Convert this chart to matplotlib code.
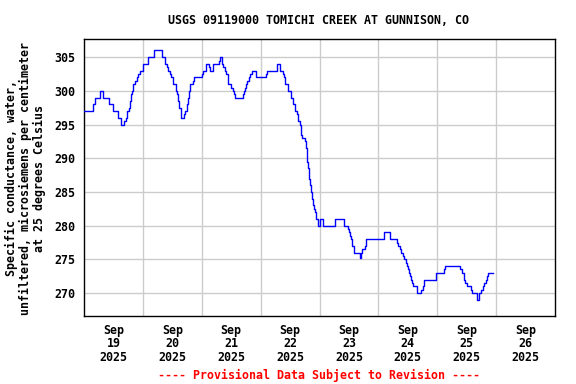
import matplotlib
matplotlib.use("Agg")
import matplotlib.pyplot as plt
from datetime import datetime, timedelta

title = "USGS 09119000 TOMICHI CREEK AT GUNNISON, CO"
ylabel = "Specific conductance, water,\nunfiltered, microsiemens per centimeter\nat 25 degrees Celsius"
footer = "---- Provisional Data Subject to Revision ----"

start = datetime(2025, 9, 19)
# hours since Sep 19 00:00 at which value changes
hours = [0, 3.5, 4.6, 6.5, 7.6, 10.1, 11.7, 13.9, 15.0, 16.3, 17.1, 17.7, 18.2, 18.8,
         19.2, 19.6, 20.1, 20.9, 21.5, 22.0, 22.8, 24.2, 26.1, 28.6, 31.8, 32.9, 33.7,
         34.3, 35.1, 35.6, 36.4, 37.5, 38.1, 38.4, 38.9, 39.4, 40.8, 41.3, 41.9, 42.4,
         43.0, 43.2, 44.6, 44.9, 48.1, 48.4, 49.8, 50.9, 51.4, 52.5, 54.9, 55.5, 56.3,
         56.8, 57.4, 57.9, 58.5, 60.1, 60.7, 61.2, 61.7, 65.0, 65.3, 65.6, 66.1, 66.6,
         67.2, 67.7, 68.3, 70.2, 74.3, 74.8, 78.6, 79.7, 81.1, 81.6, 81.9, 83.2, 84.3,
         85.1, 86.0, 86.8, 87.3, 87.9, 88.4, 88.7, 90.0, 90.6, 90.8, 91.4, 91.9, 92.2,
         92.5, 92.7, 93.0, 93.3, 93.5, 93.8, 94.1, 94.4, 94.6, 95.5, 96.3, 97.4, 97.6,
         102.3, 105.8, 107.5, 108.0, 108.5, 108.8, 109.1, 110.2, 112.6, 112.9, 113.5,
         114.6, 115.1, 122.2, 124.6, 127.6, 128.2, 128.7, 129.3, 130.1, 130.6, 131.2,
         131.7, 132.0, 132.6, 132.8, 133.1, 133.6, 134.2, 135.6, 137.5, 138.0, 138.8,
         143.5, 146.7, 147.0, 153.3, 154.1, 154.9, 155.5, 156.0, 157.9, 158.2, 160.4,
         160.9, 162.0, 162.5, 163.1, 163.7, 164.2, 164.7, 166.9]
values = [297, 298, 299, 300, 299, 298, 297, 296, 295, 295.5, 296, 297, 297.5, 298.5,
          299.5, 300, 301, 301.5, 302, 302.5, 303, 304, 305, 306, 305, 304, 303.5,
          303, 302.5, 302, 301, 300, 299.5, 298.5, 297.5, 296, 296.5, 297, 298, 299,
          300, 301, 301.5, 302, 302.5, 303, 304, 303.5, 303, 304, 304.5, 305, 304,
          303.5, 303, 302.5, 301, 300.5, 300, 299.5, 299, 299.5, 300, 300.5, 301, 301.5,
          302, 302.5, 303, 302, 302.5, 303, 304, 303, 302.5, 302, 301, 300, 299,
          298, 297, 296.5, 295.5, 295, 293.5, 293, 292.5, 291.5, 289.5, 288.5, 287, 286,
          285.7, 285, 284, 283.5, 283, 282.5, 282, 281.5, 281, 280, 281, 280.5, 280,
          281, 280, 279.5, 279, 278.5, 278, 277, 276, 275.2, 276, 276.5,
          277, 278, 279, 278, 277.5, 277, 276.5, 276, 275.5, 275, 274.5,
          274, 273.5, 273, 272.5, 272, 271.5, 271, 270, 270.5, 271, 272,
          273, 273.5, 274, 273.5, 273, 272, 271.5, 271, 270.5, 270, 269,
          270, 270.5, 271, 271.5, 272, 272.5, 273, 273]

yticks = [270, 275, 280, 285, 290, 295, 300, 305]
day_labels = ["Sep\n19\n2025", "Sep\n20\n2025", "Sep\n21\n2025", "Sep\n22\n2025",
              "Sep\n23\n2025", "Sep\n24\n2025", "Sep\n25\n2025", "Sep\n26\n2025"]

times = [start + timedelta(hours=h) for h in hours]

plt.rcParams['font.family'] = ['DejaVu Sans Mono']
plt.rcParams['font.weight'] = 'bold'
fs = 8.4

fig = plt.figure(figsize=(5.76, 3.84), dpi=100)
ax = fig.add_axes([84/576, 1-316/384, (555-84)/576, (316-39)/384])

ax.plot(times, values, drawstyle='steps-post', color='#0000ff', lw=1.0, zorder=3)

ax.set_xlim(start, start + timedelta(days=8))
ax.set_ylim(266.6, 307.7)

noon_ticks = [start + timedelta(days=i, hours=12) for i in range(8)]
mid_ticks = [start + timedelta(days=i) for i in range(1, 8)]
ax.set_xticks(noon_ticks)
ax.set_xticklabels(day_labels, fontsize=fs, fontweight='bold', linespacing=1.05)
ax.set_xticks(mid_ticks, minor=True)
ax.set_yticks(yticks)
ax.set_yticklabels([str(v) for v in yticks], fontsize=fs, fontweight='bold')
ax.tick_params(axis='both', which='both', length=0)
ax.tick_params(axis='x', pad=5.5)
ax.tick_params(axis='y', pad=6)
ax.grid(True, which='minor', axis='x', color='#cccccc', lw=1)
ax.grid(True, which='major', axis='y', color='#cccccc', lw=1)
ax.grid(False, which='major', axis='x')
for s in ax.spines.values():
    s.set_color('black')
    s.set_linewidth(1)

fig.text(25.5/576, 1-178.5/384, ylabel, rotation=90, ha='center', va='center',
         multialignment='center', fontsize=fs, fontweight='bold', linespacing=1.1)
fig.text(319/576, 1-20/384, title, ha='center', va='center', fontsize=fs, fontweight='bold')
fig.text(319/576, 1-375/384, footer, ha='center', va='center', fontsize=fs,
         fontweight='bold', color='#ff0000')

fig.savefig("out.png", dpi=100)
